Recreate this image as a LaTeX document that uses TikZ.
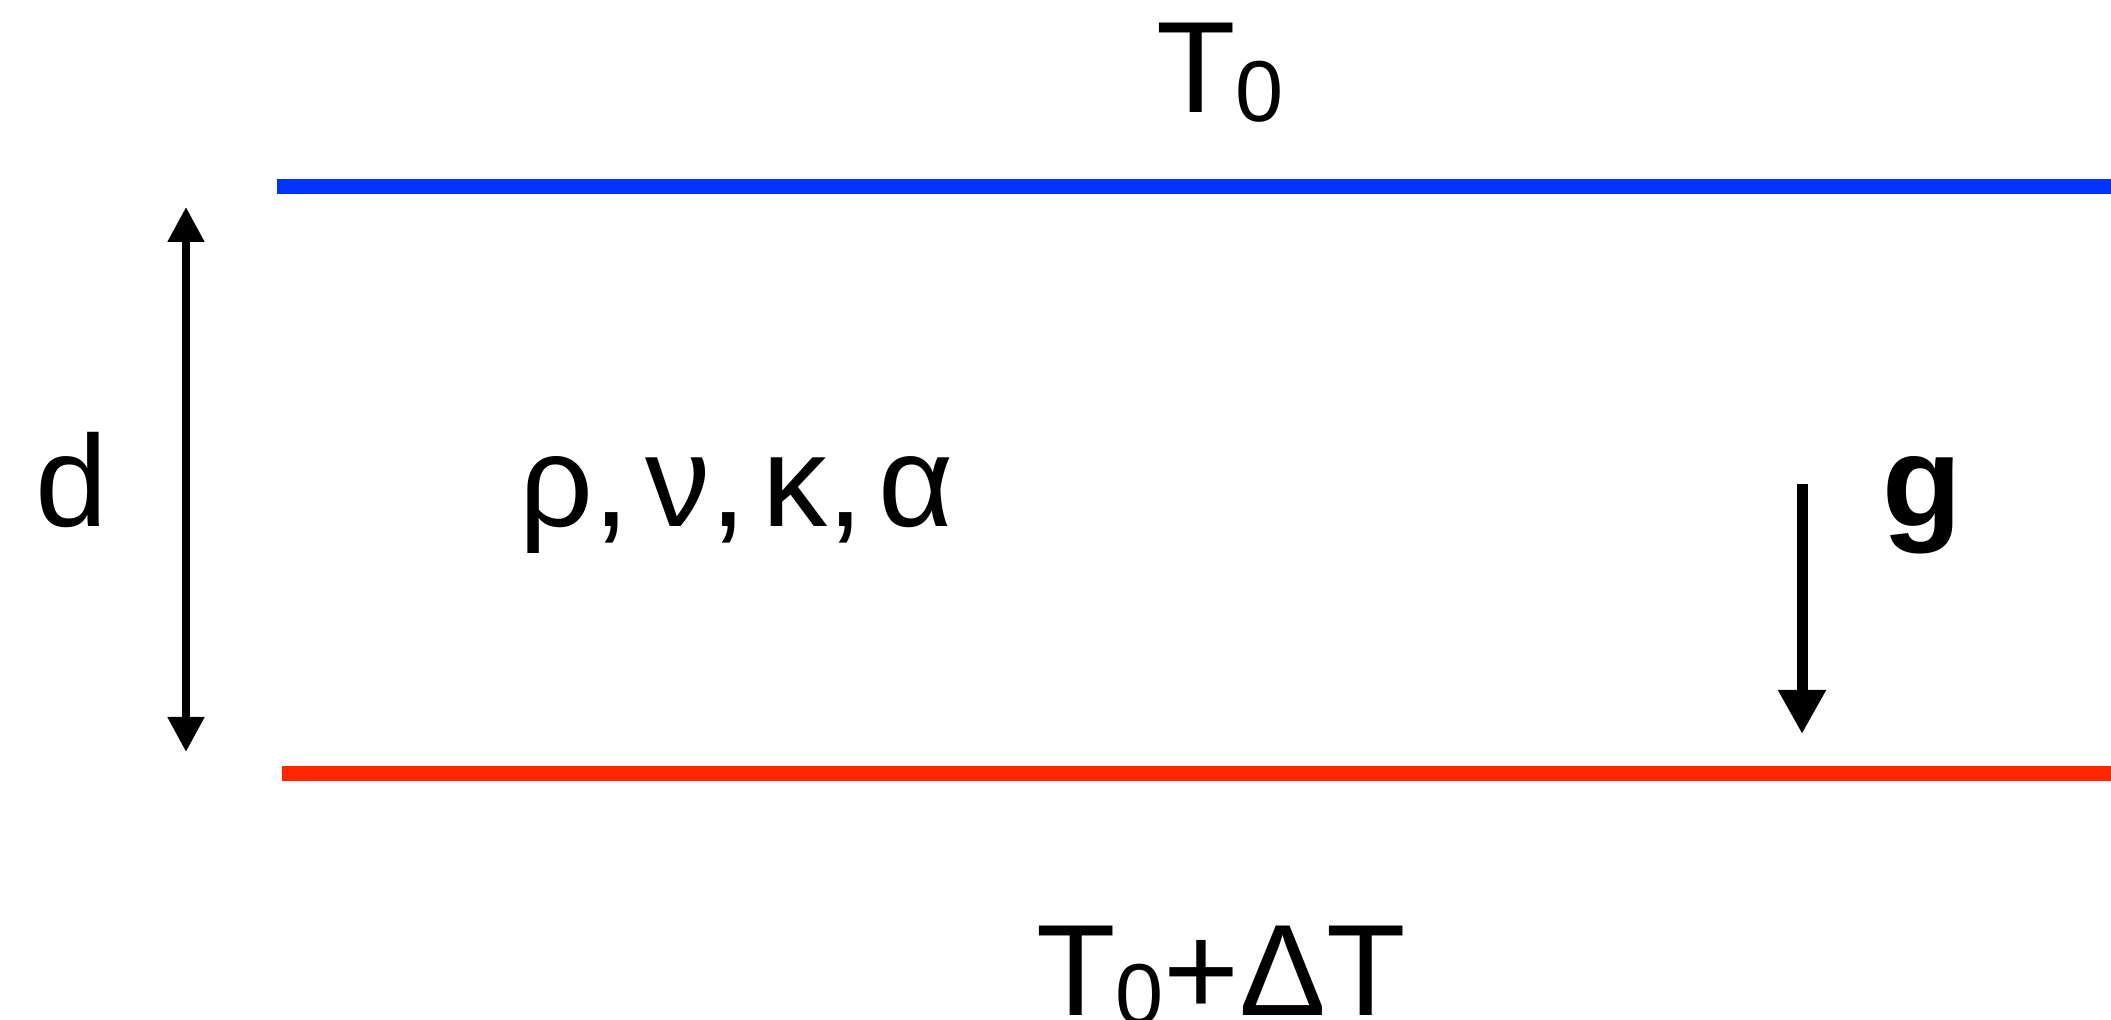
\documentclass[tikz,border=0pt]{standalone}
\usepackage{fontspec}
\setmainfont{Liberation Sans}
\usepackage{tikz}
\usetikzlibrary{arrows.meta}
\definecolor{coldplate}{RGB}{4,51,255}
\definecolor{hotplate}{RGB}{255,38,0}
\newcommand{\lowsub}[1]{\raisebox{-0.09cm}{\fontsize{24.6}{28}\selectfont #1}}
\newcommand{\gsep}{,\hspace{0.12em}}

\begin{document}
\begin{tikzpicture}[font=\fontsize{37}{44}\selectfont,
  plate/.style={line width=0.15cm},
  lbl/.style={inner sep=0pt, anchor=base},
  gap/.style={{Triangle[length=0.35cm, width=0.35cm]}-{Triangle[length=0.35cm, width=0.35cm]}, line width=0.08cm},
  grav/.style={-{Triangle[length=0.44cm, width=0.45cm]}, line width=0.11cm}]
  \useasboundingbox (0,0) rectangle (21.11,-10.20);
  % plates
  \coordinate (topL) at (2.77,-1.865);
  \coordinate (topR) at (21.11,-1.865);
  \coordinate (botL) at (2.82,-7.735);
  \coordinate (botR) at (21.11,-7.735);
  \draw[plate, coldplate] (topL) -- (topR);
  \draw[plate, hotplate] (botL) -- (botR);
  \node[lbl] (tcold) at (12.20,-1.13) {T\lowsub{0}};
  \node[lbl] (thot) at (12.21,-10.15) {T\lowsub{0}+ΔT};
  % layer depth
  \coordinate (dtop) at (1.86,-2.07);
  \coordinate (dbot) at (1.86,-7.52);
  \draw[gap] (dbot) -- (dtop);
  \node[lbl] (depth) at (0.72,-5.27) {d};
  \node[lbl] (props) at (7.37,-5.27) {ρ\gsep ν\gsep κ\gsep α};
  % gravity
  \coordinate (gtop) at (18.02,-4.84);
  \coordinate (gbot) at (18.02,-7.34);
  \draw[grav] (gtop) -- (gbot);
  \node[lbl] (glbl) at (19.22,-5.27) {\textbf{g}};
\end{tikzpicture}
\end{document}
